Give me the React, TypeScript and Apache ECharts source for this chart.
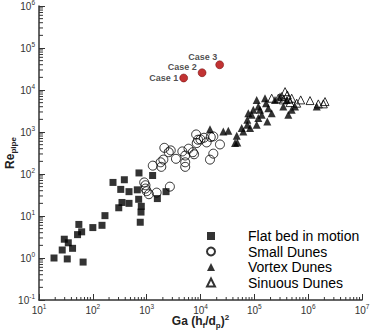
import React, { useEffect, useRef } from "react";
import * as echarts from "echarts";

// Flat bed in motion: [Ga(hf/dp)^2, Re_pipe]
const flatBed: number[][] = [
  [19, 1.0], [27, 1.55], [29.5, 2.8], [33.5, 0.95], [35, 2.3], [42, 1.7], [52, 3.6],
  [55, 6.3], [62, 4.2], [66, 0.8], [100, 5.3], [148, 6.0], [168, 10.2], [237, 63],
  [303, 15.7], [330, 43], [385, 73], [348, 21], [470, 38], [470, 20], [670, 42],
  [720, 106], [710, 25], [795, 17], [785, 12.4], [760, 7.1], [1290, 92], [1580, 26],
  [2290, 38],
];
const smallDunes: number[][] = [
  [900, 63], [950, 54], [950, 45], [1000, 39], [1100, 33], [1530, 36], [2700, 50],
  [1300, 158], [1820, 190], [1870, 148], [2040, 220], [2130, 420], [2570, 330],
  [2800, 365], [3500, 230], [4600, 345], [5200, 275], [5200, 190], [5200, 148],
  [6000, 400], [7200, 330], [7600, 295], [8300, 875], [8500, 545], [9000, 655],
  [10000, 665], [11600, 730], [13000, 565], [15500, 760], [17300, 785], [23000, 505],
  [15000, 220], [17300, 305],
];
const vortexDunes: number[][] = [
  [15000, 1170], [26500, 1030], [32900, 1070], [47100, 815], [43800, 547], [48300, 565],
  [58300, 1240], [74100, 1485], [74100, 1950], [77300, 2810], [89400, 2565], [95700, 3370],
  [110700, 5810], [118500, 4030], [127400, 3370], [118500, 2140], [137000, 2565],
  [158000, 6370], [165000, 4850], [182000, 3690], [174000, 1780], [210000, 2810],
  [242000, 5810], [300000, 6970], [399000, 5810], [345000, 4030], [428000, 2565],
  [494000, 3370], [570000, 4030], [1443000, 4030], [110700, 1485], [83200, 1240],
  [62400, 1030],
];
const sinuousDunes: number[][] = [
  [210000, 6370], [279000, 6370], [323000, 6970], [372000, 9140], [410000, 7640],
  [436000, 6040], [461000, 5010], [612000, 4850], [727000, 5810], [1082000, 5600],
  [1545000, 4670], [2056000, 5300], [1913000, 4670], [494000, 6370], [345000, 5810],
];
const caseNames = ["Case 1", "Case 2", "Case 3"];
const caseValues: number[][] = [[4870, 19300], [10700, 25800], [22700, 39900]];
const caseLabelOffsets: number[][] = [[-1, 4], [-1, -1], [2, -3]];

const seriesNames = ["Flat bed in motion", "Small Dunes", "Vortex Dunes", "Sinuous Dunes"];

const xMin = 10, xMax = 1e7, yMin = 0.1, yMax = 1e6;
const xDecades = [1, 2, 3, 4, 5, 6];
const yDecades = [-1, 0, 1, 2, 3, 4, 5];
const minorMult = [2, 3, 4, 5, 6, 7, 8, 9];

const FONT = "'Liberation Sans', Arial, Helvetica, sans-serif";

export default function App() {
  const ref = useRef<HTMLDivElement>(null);
  useEffect(() => {
    document.body.style.margin = "0";
    const chart = echarts.init(ref.current!, null, { renderer: "svg" });
    const xMinor: number[][] = [];
    xDecades.forEach((e) => minorMult.forEach((m) => xMinor.push([m * Math.pow(10, e), yMin])));
    const yMinor: number[][] = [];
    yDecades.forEach((e) => minorMult.forEach((m) => yMinor.push([xMin, m * Math.pow(10, e)])));

    const labelFmt = (v: number) => {
      const e = Math.round(Math.log10(v));
      return `{b|10}{s|${e}}`;
    };
    const tickRich = {
      b: { fontSize: 10, fontFamily: FONT, color: "#333" },
      s: { fontSize: 6.5, fontFamily: FONT, color: "#333", padding: [0, 0, 7, 0] },
    };

    chart.setOption({
      animation: false,
      grid: { left: 39, right: 9, top: 6, bottom: 31, containLabel: false, outerBoundsMode: "none" },
      legend: {
        data: seriesNames,
        orient: "vertical",
        left: 201,
        top: 224,
        itemWidth: 8,
        itemHeight: 8,
        itemGap: 1.5,
        textStyle: { fontSize: 14, fontFamily: FONT, color: "#000", padding: [0, 0, 0, 28], lineHeight: 14 },
      },
      xAxis: {
        type: "log",
        logBase: 10,
        min: xMin,
        max: xMax,
        splitNumber: 6,
        name: "{n|Ga (h}{sub|f}{n|/d}{sub|p}{n|)}{sup|2}",
        nameLocation: "middle",
        nameGap: 13,
        nameMoveOverlap: false,
        nameTextStyle: {
          rich: {
            n: { fontSize: 12, fontWeight: "bold", fontFamily: FONT, color: "#222", lineHeight: 16 },
            sub: { fontSize: 8, fontWeight: "bold", fontFamily: FONT, color: "#222", verticalAlign: "bottom", lineHeight: 16 },
            sup: { fontSize: 8, fontWeight: "bold", fontFamily: FONT, color: "#222", verticalAlign: "top", lineHeight: 16 },
          },
        },
        axisLine: { lineStyle: { color: "#333", width: 1.5 } },
        axisTick: { inside: true, length: 6, lineStyle: { color: "#333", width: 1 } },
        splitLine: { show: false },
        axisLabel: { formatter: labelFmt, rich: tickRich, margin: 3 },
      },
      yAxis: {
        type: "log",
        logBase: 10,
        min: yMin,
        max: yMax,
        splitNumber: 7,
        name: "{n|Re}{sub|pipe}",
        nameLocation: "middle",
        nameGap: 22,
        nameMoveOverlap: false,
        nameRotate: 90,
        nameTextStyle: {
          rich: {
            n: { fontSize: 12, fontWeight: "bold", fontFamily: FONT, color: "#222", lineHeight: 15 },
            sub: { fontSize: 8, fontWeight: "bold", fontFamily: FONT, color: "#222", verticalAlign: "bottom", lineHeight: 15 },
          },
        },
        axisLine: { lineStyle: { color: "#333", width: 1.5 } },
        axisTick: { inside: true, length: 6, lineStyle: { color: "#333", width: 1 } },
        splitLine: { show: false },
        axisLabel: { formatter: labelFmt, rich: tickRich, margin: 4 },
      },
      series: [
        {
          type: "custom",
          name: "xminor",
          silent: true,
          clip: false,
          data: xMinor,
          renderItem: (params: any, api: any) => {
            const p = api.coord([api.value(0), api.value(1)]);
            return { type: "line", shape: { x1: p[0], y1: p[1], x2: p[0], y2: p[1] - 3 }, style: { stroke: "#333", lineWidth: 1 } };
          },
        },
        {
          type: "custom",
          name: "yminor",
          silent: true,
          clip: false,
          data: yMinor,
          renderItem: (params: any, api: any) => {
            const p = api.coord([api.value(0), api.value(1)]);
            return { type: "line", shape: { x1: p[0], y1: p[1], x2: p[0] + 4, y2: p[1] }, style: { stroke: "#333", lineWidth: 1 } };
          },
        },
        {
          type: "scatter",
          name: seriesNames[0],
          symbol: "rect",
          symbolSize: 7,
          data: flatBed,
          itemStyle: { color: "#000" },
        },
        {
          type: "scatter",
          name: seriesNames[1],
          symbol: "circle",
          symbolSize: 9,
          data: smallDunes,
          itemStyle: { color: "rgba(0,0,0,0)", borderColor: "#000", borderWidth: 1 },
        },
        {
          type: "scatter",
          name: seriesNames[2],
          symbol: "triangle",
          symbolSize: 8,
          data: vortexDunes,
          itemStyle: { color: "#000" },
        },
        {
          type: "scatter",
          name: seriesNames[3],
          symbol: "triangle",
          symbolSize: 8,
          data: sinuousDunes,
          itemStyle: { color: "rgba(0,0,0,0)", borderColor: "#000", borderWidth: 1 },
        },
        {
          type: "scatter",
          name: "Cases",
          symbol: "circle",
          symbolSize: 8,
          itemStyle: { color: "#b30000", borderColor: "#600", borderWidth: 0.6 },
          label: {
            show: true,
            formatter: "{b}",
            fontSize: 9,
            fontWeight: "bold",
            fontFamily: FONT,
            color: "#222",
            align: "right",
            verticalAlign: "middle",
          },
          data: caseNames.map((n, i) => ({
            name: n,
            value: caseValues[i],
            label: { position: caseLabelOffsets[i] },
          })),
        },
      ],
    });
    return () => chart.dispose();
  }, []);
  return <div ref={ref} style={{ width: 371, height: 331, position: "absolute", left: 0, top: 0 }} />;
}
